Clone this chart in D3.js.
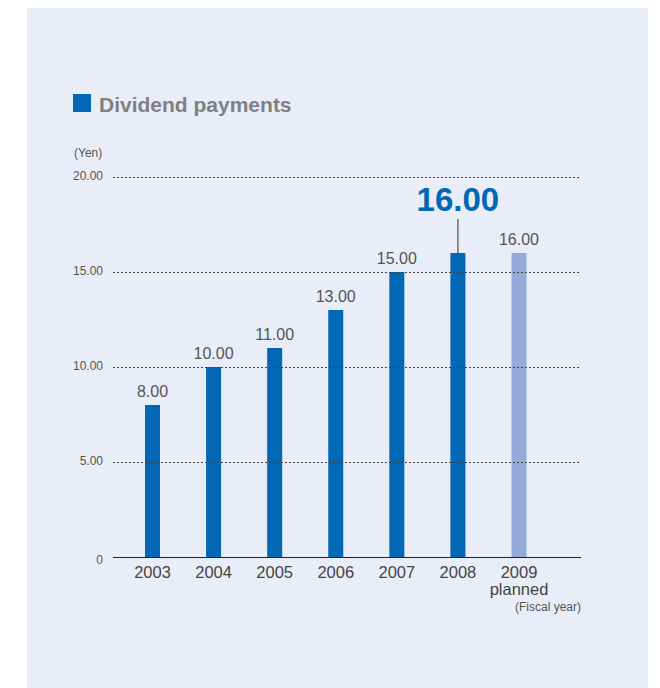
<!DOCTYPE html>
<html><head><meta charset="utf-8">
<script src="https://cdn.jsdelivr.net/npm/d3@7"></script>
<style>
html,body{margin:0;padding:0;background:#fff;}
text{font-family:"Liberation Sans",Arial,Helvetica,sans-serif;}
</style></head>
<body>
<svg id="chart" width="660" height="688"></svg>
<script>
const years = ["2003","2004","2005","2006","2007","2008","2009"];
const dividends = [8, 10, 11, 13, 15, 16, 16];
const planned = [false, false, false, false, false, false, true];
const yTicks = [0, 5, 10, 15, 20];
const title = "Dividend payments";
const highlightYear = "2008";

const svg = d3.select("#chart");
svg.append("rect").attr("x",27).attr("y",8).attr("width",621).attr("height",680).attr("fill","#e9edf8");

const y = d3.scaleLinear().domain([0,20]).range([557,177]);
const x = d3.scalePoint().domain(years).range([152.5,519]);
const barW = 15;

// title
svg.append("rect").attr("x",73).attr("y",94).attr("width",18).attr("height",18).attr("fill","#0068b5");
svg.append("text").attr("x",99).attr("y",112).attr("font-size",21).attr("font-weight","bold")
  .attr("fill","#808080").text(title);

// y unit
svg.append("text").attr("x",74).attr("y",157).attr("font-size",12).attr("fill","#555").text("(Yen)");

// bars
svg.append("g").selectAll("rect").data(years).join("rect")
  .attr("x",(d)=>x(d)-barW/2).attr("width",barW)
  .attr("y",(d,i)=>y(dividends[i])).attr("height",(d,i)=>y(0)-y(dividends[i]))
  .attr("fill",(d,i)=>planned[i]?"#94aad9":"#0068b5");

// gridlines (drawn over bars)
svg.append("g").selectAll("line").data(yTicks.filter(d=>d>0)).join("line")
  .attr("x1",113).attr("x2",580).attr("y1",d=>y(d)+0.5).attr("y2",d=>y(d)+0.5)
  .attr("stroke","#444").attr("stroke-width",1).attr("stroke-dasharray","2,2");

// y tick labels
svg.append("g").selectAll("text").data(yTicks).join("text")
  .attr("x",103).attr("y",d=>y(d)+(d===0?7:3)).attr("text-anchor","end")
  .attr("font-size",12).attr("fill","#555")
  .text(d=>d===0?"0":d3.format(".2f")(d));

// axis
svg.append("line").attr("x1",113).attr("x2",581).attr("y1",y(0)+0.5).attr("y2",y(0)+0.5)
  .attr("stroke","#222").attr("stroke-width",1.2);

// value labels
svg.append("g").selectAll("text").data(years.filter(d=>d!==highlightYear)).join("text")
  .attr("x",d=>x(d)).attr("y",d=>y(dividends[years.indexOf(d)])-8)
  .attr("text-anchor","middle").attr("font-size",16).attr("fill","#555")
  .text(d=>d3.format(".2f")(dividends[years.indexOf(d)]));

// highlight
const hi = years.indexOf(highlightYear);
svg.append("line").attr("x1",x(highlightYear)).attr("x2",x(highlightYear))
  .attr("y1",219).attr("y2",y(dividends[hi])).attr("stroke","#333").attr("stroke-width",1);
svg.append("text").attr("x",x(highlightYear)).attr("y",211).attr("text-anchor","middle")
  .attr("font-size",33).attr("font-weight","bold").attr("fill","#0068b5")
  .text(d3.format(".2f")(dividends[hi]));

// x labels
svg.append("g").selectAll("text").data(years).join("text")
  .attr("x",d=>x(d)).attr("y",578).attr("text-anchor","middle")
  .attr("font-size",16.5).attr("fill","#444").text(d=>d);
svg.append("text").attr("x",x("2009")).attr("y",595).attr("text-anchor","middle")
  .attr("font-size",16.5).attr("fill","#444").text("planned");
svg.append("text").attr("x",581).attr("y",611).attr("text-anchor","end")
  .attr("font-size",12).attr("fill","#555").text("(Fiscal year)");
</script>
</body></html>
